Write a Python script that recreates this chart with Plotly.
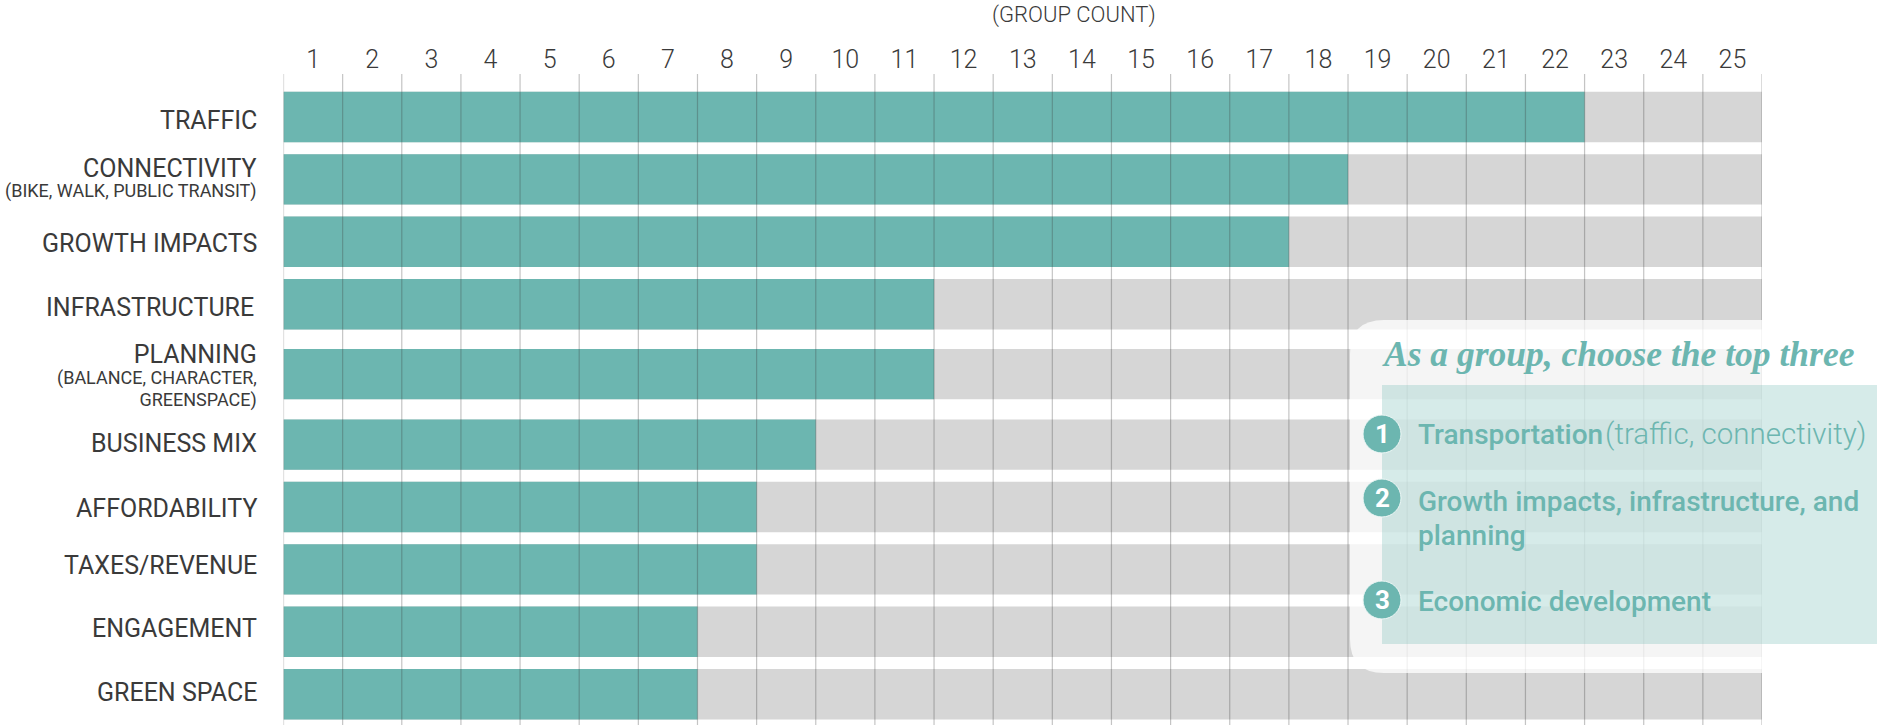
import plotly.graph_objects as go
from itertools import accumulate

categories = ["TRAFFIC", "CONNECTIVITY", "GROWTH IMPACTS", "INFRASTRUCTURE", "PLANNING",
              "BUSINESS MIX", "AFFORDABILITY", "TAXES/REVENUE", "ENGAGEMENT", "GREEN SPACE"]
counts = [22, 18, 17, 11, 11, 9, 8, 8, 7, 7]
total_groups = 25
tick_labels = [str(i) for i in range(1, total_groups + 1)]
sublabels = {"CONNECTIVITY": ["(BIKE, WALK, PUBLIC TRANSIT)"],
             "PLANNING": ["(BALANCE, CHARACTER,", "GREENSPACE)"]}
axis_title = "(GROUP COUNT)"
panel_title = "As a group, choose the top three"

# ---- styling / layout ----
W, H = 1877, 725
TEAL, GREY, INK = "#6cb6b0", "#d6d6d6", "#3a3a3a"
FONT = "Roboto"
PLOT_L, PLOT_R, PLOT_T = 283.5, 1762, 74
ROW_H = 62.4
BAR_W = 50.4 / ROW_H
FIRST_ROW_PX = 117
row_steps = [0, 1, 1, 1, 1.12, 1.13, 1, 1, 1, 1]
row_pos = list(accumulate(row_steps))
label_shift = [-3, 1.5, -2, -3.5, -1, 1, -1.5, 3.5, 3, 2]
label_inset = [0, 0, 0, -3, 0, 0, 0, 0, 0, 0]
line_base = {"CONNECTIVITY": 15.5, "PLANNING": 16.5}
px = lambda x: x / W
py = lambda y: 1 - y / H

fig = go.Figure()
fig.add_bar(y=row_pos, x=[total_groups] * len(categories), orientation="h", width=BAR_W,
            marker=dict(color=GREY, line_width=0), showlegend=False, name="Total")
fig.add_bar(y=row_pos, x=counts, orientation="h", width=BAR_W,
            marker=dict(color=TEAL, line_width=0), showlegend=False, name="Group count",
            customdata=categories, hovertemplate="%{customdata}: %{x}<extra></extra>")

shapes = []
for i in range(total_groups + 1):
    shapes.append(dict(type="line", xref="x", yref="y domain", x0=i, x1=i, y0=0, y1=1,
                       line=dict(color="rgba(60,60,60,0.3)", width=1.2), layer="above"))

# translucent white rounded panel, then pale teal block
l, t, b, r, rad = 1350, 320, 673, 1790, 34
path = (f"M {px(r)} {py(t)} L {px(l+rad)} {py(t)} Q {px(l)} {py(t)} {px(l)} {py(t+rad)} "
        f"L {px(l)} {py(b-rad)} Q {px(l)} {py(b)} {px(l+rad)} {py(b)} L {px(r)} {py(b)} Z")
shapes.append(dict(type="path", xref="paper", yref="paper", path=path,
                   fillcolor="rgba(255,255,255,0.75)", line_width=0, layer="above"))
shapes.append(dict(type="rect", xref="paper", yref="paper", x0=px(1382), x1=px(W), y0=py(644), y1=py(385),
                   fillcolor="rgba(108,182,176,0.28)", line_width=0, layer="above"))

annotations = []
def note(x, y, text, size, color=INK, anchor="left", weight=400, family=FONT):
    annotations.append(dict(xref="paper", yref="paper", x=px(x), y=py(y), text=text, showarrow=False,
                            xanchor=anchor, yanchor="middle", align=anchor,
                            font=dict(size=size, color=color, family=family, weight=weight)))

# row labels sit at the row's y value on the axis
for cat, pos, shift, inset in zip(categories, row_pos, label_shift, label_inset):
    subs = sublabels.get(cat, [])
    if subs:
        text = f'<span style="font-size:25px">{cat}</span><br>' + "<br>".join(
            f'<span style="font-size:18px">{s}</span>' for s in subs)
        size = line_base[cat]
    else:
        text, size = cat, 25
    annotations.append(dict(xref="paper", yref="y", x=px(259), y=pos, text=text, showarrow=False,
                            xanchor="right", yanchor="middle", align="right",
                            yshift=shift, xshift=inset,
                            font=dict(size=size, color=INK, family=FONT, weight=400)))

note(1074, 15, axis_title, 22, anchor="center", weight=300)
note(1380, 354, f"<i><b>{panel_title}</b></i>", 35.5, TEAL, family="Liberation Serif")

for cy, digit in [(434, "1"), (498, "2"), (600, "3")]:
    rr = 19
    shapes.append(dict(type="circle", xref="paper", yref="paper", x0=px(1382 - rr), x1=px(1382 + rr),
                       y0=py(cy + rr), y1=py(cy - rr), fillcolor=TEAL,
                       line=dict(color="#eef7f6", width=1), layer="above"))
    note(1382, cy, f"<b>{digit}</b>", 26, "white", anchor="center")

note(1416, 434, "Transportation", 28, TEAL, weight=500)
note(1868, 434, "(traffic, connectivity)", 29.5, TEAL, anchor="right", weight=300)
note(1416, 501, "Growth impacts, infrastructure, and", 28, TEAL, weight=500)
note(1416, 535, "planning", 28, TEAL, weight=500)
note(1416, 601, "Economic development", 28, TEAL, weight=500)

fig.update_layout(
    width=W, height=H, margin=dict(l=0, r=0, t=0, b=0), autosize=False,
    paper_bgcolor="white", plot_bgcolor="white", barmode="overlay",
    shapes=shapes, annotations=annotations, showlegend=False,
    xaxis=dict(domain=[px(PLOT_L), px(PLOT_R)], range=[0, total_groups], side="top",
               tickmode="array", tickvals=[i + 0.5 for i in range(total_groups)], ticktext=tick_labels,
               ticks="", ticklabelstandoff=0, showgrid=False, zeroline=False, showline=False,
               tickfont=dict(size=25, color=INK, family=FONT, weight=300)),
    yaxis=dict(domain=[0, 1 - PLOT_T / H],
               range=[(H - FIRST_ROW_PX) / ROW_H, (PLOT_T - FIRST_ROW_PX) / ROW_H],
               tickmode="array", tickvals=row_pos, showticklabels=False, ticks="",
               showgrid=False, zeroline=False, showline=False),
)
fig.write_html("out.html", config={"displayModeBar": False},
               post_script="document.body.style.margin='0';")
